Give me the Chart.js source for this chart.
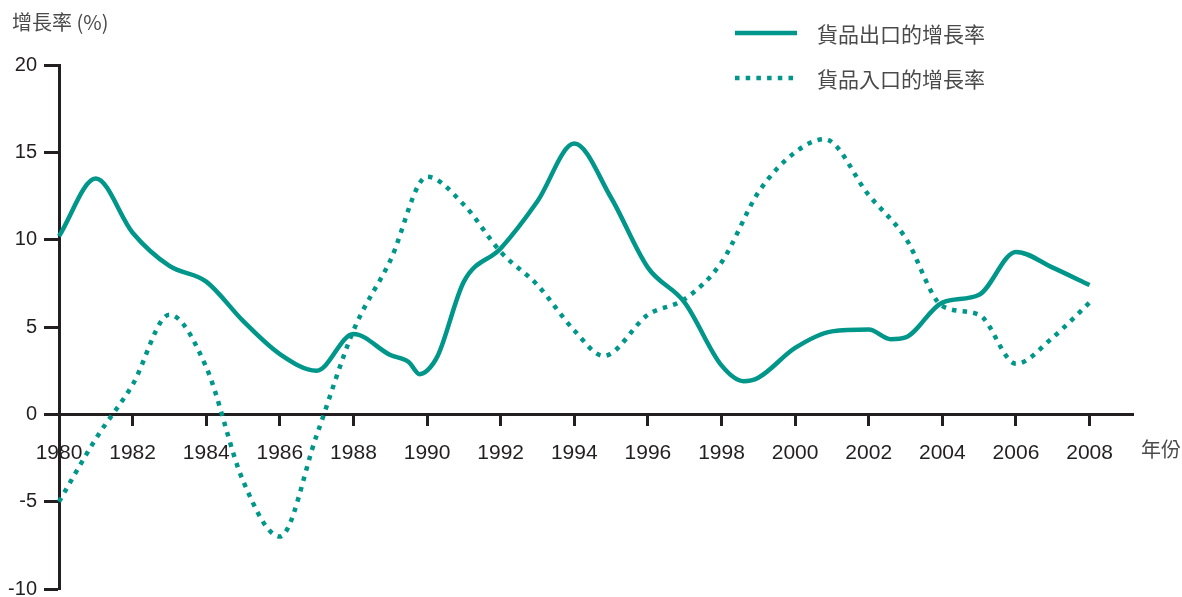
<!DOCTYPE html>
<html>
<head>
    <meta charset="utf-8">
    <title>貨品出入口的增長率</title>
    <script src="https://cdn.jsdelivr.net/npm/chart.js"></script>
    <style>
        html, body { margin: 0; padding: 0; background: #fff; }
        #wrap { width: 1182px; height: 597px; position: relative; }
    </style>
</head>
<body>
    <div id="wrap">
        <canvas id="myChart" width="1182" height="597"></canvas>
    </div>

    <script>
        // data
        const exportYears = [1980, 1981, 1982, 1983, 1984, 1985, 1986, 1987, 1988, 1989, 1989.5, 1989.8, 1990, 1990.3,
                             1991, 1992, 1993, 1994, 1995, 1996, 1997, 1998, 1998.6, 1999, 2000, 2001, 2002, 2002.6,
                             2003, 2004, 2005, 2006, 2007, 2008];
        const exportGrowth = [10.2, 13.5, 10.4, 8.5, 7.6, 5.35, 3.45, 2.5, 4.6, 3.4, 3.0, 2.3, 2.5, 3.4,
                              7.6, 9.5, 12.2, 15.5, 12.4, 8.4, 6.4, 2.8, 1.9, 2.1, 3.8, 4.75, 4.85, 4.3,
                              4.4, 6.4, 6.85, 9.3, 8.4, 7.4];

        const importYears = [1980, 1981, 1982, 1983, 1984, 1985, 1986, 1987, 1988, 1989, 1990, 1991, 1992, 1993,
                             1994, 1994.8, 1996, 1997, 1998, 1999, 2000, 2000.8, 2002, 2003, 2004, 2005, 2006, 2007, 2008];
        const importGrowth = [-5.0, -1.4, 1.7, 5.7, 2.7, -3.8, -7.0, -1.2, 4.8, 8.8, 13.6, 12.0, 9.3, 7.4,
                              4.8, 3.35, 5.7, 6.6, 8.7, 12.7, 15.0, 15.75, 12.55, 10.1, 6.2, 5.7, 2.9, 4.4, 6.4];

        const seriesNames = ['貨品出口的增長率', '貨品入口的增長率'];
        const xTickYears = [1980, 1982, 1984, 1986, 1988, 1990, 1992, 1994, 1996, 1998, 2000, 2002, 2004, 2006, 2008];
        const yAxisTitle = '增長率 (%)';
        const xAxisTitle = '年份';

        const teal = '#00968a';
        const ink = '#231f20';
        const grey = '#4a4a4a';
        const cjkFont = '"Noto Sans CJK TC", "Noto Sans", sans-serif';
        const numFont = '"Liberation Sans", Arial, sans-serif';

        function toPoints(xs, ys) {
            return xs.map((x, i) => ({x: x, y: ys[i]}));
        }

        // titles and legend drawn as text on top of the chart
        const extraText = {
            id: 'extraText',
            afterDraw(chart) {
                const ctx = chart.ctx;
                const y = chart.scales.y;
                ctx.save();
                ctx.fillStyle = grey;
                ctx.textBaseline = 'middle';
                ctx.textAlign = 'left';
                ctx.font = '20px ' + cjkFont;
                ctx.fillText(yAxisTitle, 12, 22);
                ctx.fillText(xAxisTitle, 1141, y.getPixelForValue(0) + 35);

                // legend
                const rows = [33, 78];
                chart.data.datasets.forEach((ds, i) => {
                    ctx.strokeStyle = ds.borderColor;
                    ctx.lineWidth = ds.borderWidth;
                    ctx.setLineDash(ds.borderDash || []);
                    ctx.beginPath();
                    ctx.moveTo(735, rows[i]);
                    ctx.lineTo(797, rows[i]);
                    ctx.stroke();
                    ctx.setLineDash([]);
                    ctx.fillStyle = grey;
                    ctx.font = '21px ' + cjkFont;
                    ctx.fillText(ds.label, 817, rows[i] + 1);
                });
                ctx.restore();
            }
        };

        const ctx = document.getElementById('myChart').getContext('2d');
        window.myChart = new Chart(ctx, {
            type: 'line',
            data: {
                datasets: [{
                    label: seriesNames[0],
                    data: toPoints(exportYears, exportGrowth),
                    borderColor: teal,
                    borderWidth: 4.5,
                    pointRadius: 0,
                    cubicInterpolationMode: 'monotone',
                    fill: false,
                    clip: false
                }, {
                    label: seriesNames[1],
                    data: toPoints(importYears, importGrowth),
                    borderColor: teal,
                    borderWidth: 4.5,
                    borderDash: [4.5, 6.2],
                    borderCapStyle: 'butt',
                    pointRadius: 0,
                    cubicInterpolationMode: 'monotone',
                    fill: false,
                    clip: false
                }]
            },
            options: {
                responsive: false,
                animation: false,
                layout: { padding: { left: 0, right: 49, top: 65, bottom: 8 } },
                plugins: {
                    legend: { display: false },
                    tooltip: { enabled: false }
                },
                scales: {
                    x: {
                        type: 'linear',
                        position: { y: 0 },
                        min: 1980,
                        max: 2009.18,
                        afterBuildTicks: s => { s.ticks = xTickYears.map(v => ({value: v})); },
                        afterFit: s => { s.height = 0; s.paddingLeft = 0; s.paddingRight = 0; },
                        border: { display: true, color: ink, width: 3 },
                        grid: { drawOnChartArea: false, drawTicks: true, tickLength: 10, tickWidth: 3, tickColor: ink },
                        ticks: {
                            color: ink,
                            padding: 16,
                            maxRotation: 0,
                            autoSkip: false,
                            font: { family: numFont, size: 21 },
                            callback: v => String(v)
                        }
                    },
                    y: {
                        position: 'left',
                        min: -10,
                        max: 20,
                        afterFit: s => { s.width = 59; s.paddingTop = 0; s.paddingBottom = 0; },
                        border: { display: true, color: ink, width: 3 },
                        grid: { drawOnChartArea: false, drawTicks: true, tickLength: 15, tickWidth: 3, tickColor: ink },
                        ticks: {
                            stepSize: 5,
                            color: ink,
                            padding: 7,
                            font: { family: numFont, size: 20 }
                        }
                    }
                }
            },
            plugins: [extraText]
        });
    </script>
</body>
</html>
